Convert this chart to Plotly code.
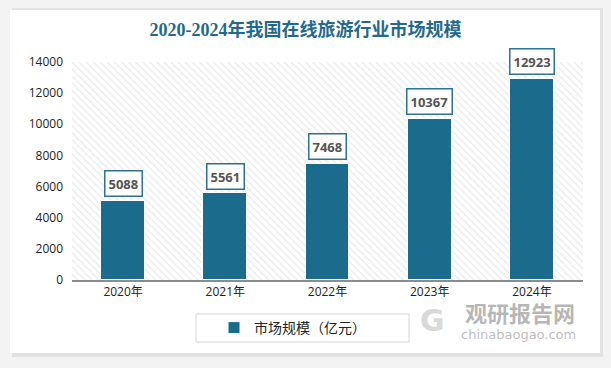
import plotly.graph_objects as go

years = ["2020年", "2021年", "2022年", "2023年", "2024年"]
values = [5088, 5561, 7468, 10367, 12923]
y_ticks = [0, 2000, 4000, 6000, 8000, 10000, 12000, 14000]
series_name = "市场规模（亿元）"
title_text = "2020-2024年我国在线旅游行业市场规模"

W, H = 611, 368
L, R, T, B = 72, 28, 62, 88
xs = list(range(len(years)))
PW, PH = W - L - R, H - T - B


def px_x(x):
    return (x - L) / PW


def px_y(y):
    return (H - B - y) / PH


fig = go.Figure()

# hatched plot background
fig.add_trace(go.Bar(
    x=[(len(years) - 1) / 2], y=[y_ticks[-1]], width=[len(years)],
    marker=dict(color="white", line=dict(width=0),
                pattern=dict(shape="\\", fgcolor="#d3d3d3", bgcolor="white", size=5, solidity=0.25)),
    showlegend=False, hoverinfo="skip",
))

fig.add_trace(go.Bar(
    x=xs, y=values, width=0.43, name=series_name,
    marker=dict(color="#1b6b8d", line=dict(color="white", width=1)),
))

for xi, v in zip(xs, values):
    fig.add_annotation(
        x=xi, y=v, xref="x", yref="y", text=f"<b>{v}</b>", showarrow=False,
        yshift=17, bgcolor="white", bordercolor="#2e7191", borderwidth=1.5, borderpad=3,
        font=dict(family="Open Sans, DejaVu Sans", size=13, color="#555555"),
    )

# card shapes
fig.add_shape(type="rect", xref="paper", yref="paper",
              x0=px_x(12), x1=px_x(603), y0=px_y(357), y1=px_y(8),
              fillcolor="#e2e2e2", line=dict(width=0), layer="below")
fig.add_shape(type="rect", xref="paper", yref="paper",
              x0=px_x(10), x1=px_x(600), y0=px_y(353), y1=px_y(10),
              fillcolor="white", line=dict(width=0), layer="below")
# legend frame
fig.add_shape(type="rect", xref="paper", yref="paper",
              x0=px_x(196), x1=px_x(409), y0=px_y(342), y1=px_y(314),
              fillcolor="white", line=dict(width=1, color="#d4d4d4"), layer="below")

# watermark
fig.add_annotation(
    x=px_x(432), y=px_y(320), xref="paper", yref="paper", xanchor="center", yanchor="middle",
    text="<b>G</b>", showarrow=False, font=dict(family="DejaVu Sans", size=30, color="#d9d9d9"),
)
fig.add_annotation(
    x=px_x(520), y=px_y(312), xref="paper", yref="paper", xanchor="center", yanchor="middle",
    text="<b>观研报告网</b>", showarrow=False,
    font=dict(family="Noto Sans CJK SC", size=22, color="rgba(150,150,150,0.7)"),
)
fig.add_annotation(
    x=px_x(518), y=px_y(334), xref="paper", yref="paper", xanchor="center", yanchor="middle",
    text="chinabaogao.com", showarrow=False,
    font=dict(family="DejaVu Sans", size=13, color="rgba(150,150,150,0.65)"),
)

fig.update_layout(
    width=W, height=H,
    margin=dict(l=L, r=R, t=T, b=B, autoexpand=False),
    paper_bgcolor="#f3f3f3", plot_bgcolor="rgba(0,0,0,0)",
    barmode="overlay", bargap=0,
    title=dict(text=f"<b>{title_text}</b>", x=0.5, xanchor="center", y=1 - 30 / H, yanchor="middle",
               font=dict(family="Liberation Serif, Noto Sans CJK SC", size=18, color="#1f6a8e")),
    xaxis=dict(tickmode="array", tickvals=xs, ticktext=years, range=[-0.5, len(years) - 0.5],
               showgrid=False, zeroline=False, showline=True, linecolor="#8c8c8c", linewidth=1.5,
               ticks="", tickfont=dict(family="Open Sans, Noto Sans CJK SC", size=12, color="#222222")),
    yaxis=dict(range=[0, y_ticks[-1]], tickmode="array", tickvals=y_ticks,
               ticktext=[str(t) for t in y_ticks], showgrid=False,
               zeroline=False, showline=False, ticks="", ticklabelstandoff=8,
               tickfont=dict(family="Open Sans, DejaVu Sans", size=12, color="#222222")),
    legend=dict(orientation="h", x=px_x(214), xanchor="left",
                y=px_y(328), yanchor="middle",
                bgcolor="rgba(0,0,0,0)", borderwidth=0, itemwidth=30,
                font=dict(family="Noto Sans CJK SC", size=14, color="#222222")),
)

fig.write_html("out.html", post_script="document.body.style.margin='0';",
               config={"displayModeBar": False})
